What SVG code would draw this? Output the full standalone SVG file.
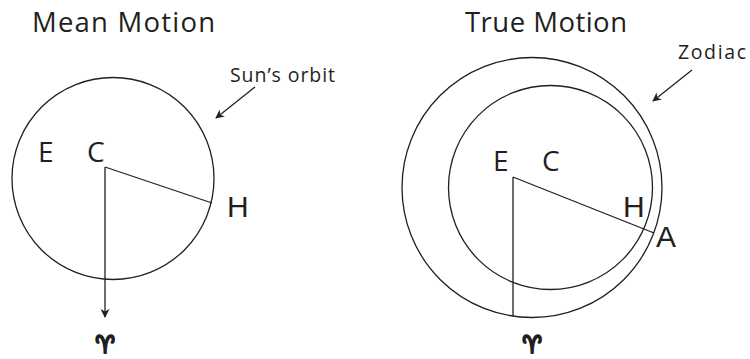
<svg xmlns="http://www.w3.org/2000/svg" width="750" height="359" viewBox="0 0 750 359">
<defs>
<style>
.ln{fill:none;stroke:#231f20;stroke-width:1.3}
.title{font-family:"Open Sans",sans-serif;font-size:27.5px;fill:#231f20}
.note{font-family:"Open Sans",sans-serif;font-size:19.5px;fill:#231f20}
.pt{font-family:"Open Sans",sans-serif;font-size:28px;fill:#231f20}
.pt2{font-family:"Liberation Sans",Arial,sans-serif;font-size:30px;fill:#231f20}
.aries{font-family:"DejaVu Sans",sans-serif;font-size:22px;fill:#231f20;stroke:#231f20;stroke-width:1.9;stroke-linejoin:round;text-anchor:middle}
</style>
<marker id="ah" viewBox="0 0 10 10" refX="9" refY="5" markerWidth="9" markerHeight="9" markerUnits="userSpaceOnUse" orient="auto">
<path d="M0,0 L10,5 L0,10 L3,5 Z" fill="#231f20"/>
</marker>
</defs>
<rect width="750" height="359" fill="#ffffff"/>
<g id="mean-motion">
<text class="title" x="32" y="32" textLength="183">Mean Motion</text>
<g id="sun-orbit"><circle class="ln" cx="113" cy="178.5" r="101"/></g>
<text class="note" x="230" y="82" textLength="105">Sun’s orbit</text>
<text class="pt" x="38" y="162">E</text>
<text class="pt" x="87" y="162">C</text>
<text class="pt2" x="227" y="217">H</text>
<text class="aries" transform="translate(105,353) scale(1,1.1)">♈︎</text>
</g>
<g id="true-motion">
<text class="title" x="465" y="32" textLength="162">True Motion</text>
<g id="zodiac"><circle class="ln" cx="532" cy="187.5" r="130"/></g>
<g id="inner-orbit"><circle class="ln" cx="550.5" cy="187.5" r="102"/></g>
<text class="note" x="678" y="59" textLength="68">Zodiac</text>
<text class="pt" x="493" y="171">E</text>
<text class="pt" x="542" y="171">C</text>
<text class="pt2" x="623" y="217">H</text>
<text class="pt2" x="656" y="247">A</text>
<text class="aries" transform="translate(532,353) scale(1,1.1)">♈︎</text>
</g>
<g id="connectors">
<path class="ln" d="M105,167 L105,317" marker-end="url(#ah)"/>
<path class="ln" d="M105,167 L212,203"/>
<path class="ln" d="M255,87 L216,118" marker-end="url(#ah)"/>
<path class="ln" d="M513,177 L513,316.5"/>
<path class="ln" d="M513,177 L654,233"/>
<path class="ln" d="M692,70 L653,101" marker-end="url(#ah)"/>
</g>
</svg>
